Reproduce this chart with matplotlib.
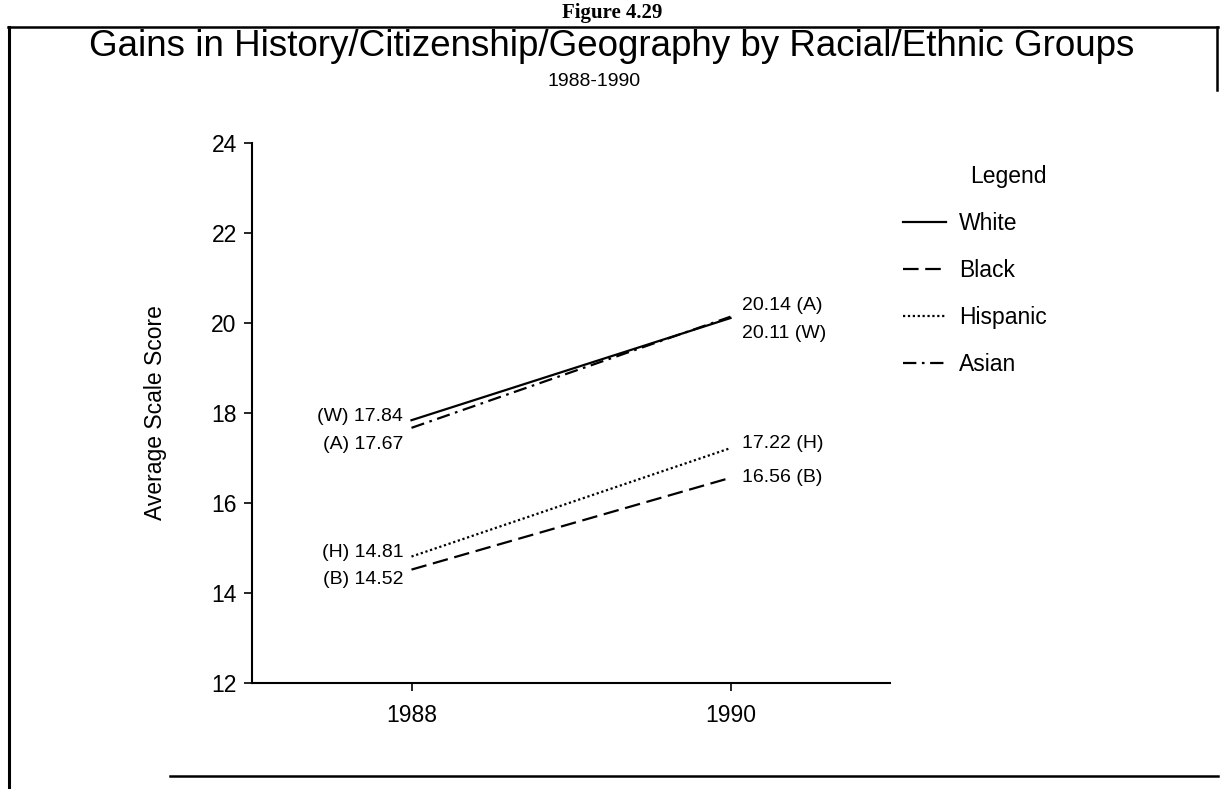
import matplotlib
matplotlib.use("Agg")
import matplotlib.pyplot as plt
from matplotlib.lines import Line2D

plt.rcParams['font.family'] = ['Liberation Sans', 'DejaVu Sans']

# ---- data ----
years = [1988, 1990]
groups = ["White", "Black", "Hispanic", "Asian"]
abbr = ["W", "B", "H", "A"]
scores_1988 = [17.84, 14.52, 14.81, 17.67]
scores_1990 = [20.11, 16.56, 17.22, 20.14]
yticks = [12, 14, 16, 18, 20, 22, 24]
xtick_labels = ["1988", "1990"]

title = "Gains in History/Citizenship/Geography by Racial/Ethnic Groups"
subtitle = "1988-1990"
ylabel = "Average Scale Score"

W, H = 1223, 789
fig = plt.figure(figsize=(W / 100, H / 100), dpi=100)
fig.patch.set_facecolor("white")

def fx(px):
    return px / W

def fy(py):
    return 1 - py / H

ax = fig.add_axes([fx(252), fy(683), fx(890) - fx(252), fy(143) - fy(683)])
ax.set_xlim(1987, 1991)
ax.set_ylim(12, 24)

styles = {
    "White": dict(linestyle="-"),
    "Black": dict(linestyle=(0, (7, 3))),
    "Hispanic": dict(linestyle=(0, (1, 1.2))),
    "Asian": dict(linestyle=(0, (6, 2.5, 1.2, 2.5))),
}

handles = []
for g, a, s0, s1 in zip(groups, abbr, scores_1988, scores_1990):
    ln, = ax.plot(years, [s0, s1], color="black", lw=1.6, label=g, **styles[g])
    handles.append(ln)

# value labels (vertical offsets in points to keep them separated)
left_off = {"W": 3, "B": -7, "H": 3, "A": -12}
right_off = {"W": -11, "B": 0, "H": 3, "A": 8}
for a, s0, s1 in zip(abbr, scores_1988, scores_1990):
    ax.annotate(f"({a}) {s0:.2f}", xy=(years[0], s0), xytext=(-6, left_off[a]),
                textcoords="offset points", ha="right", va="center", fontsize=14)
    ax.annotate(f"{s1:.2f} ({a})", xy=(years[1], s1), xytext=(8, right_off[a]),
                textcoords="offset points", ha="left", va="center", fontsize=14)

ax.spines["top"].set_visible(False)
ax.spines["right"].set_visible(False)
for sp in ("left", "bottom"):
    ax.spines[sp].set_linewidth(1.5)
ax.set_yticks(yticks)
ax.set_yticklabels([str(t) for t in yticks])
ax.set_xticks(years)
ax.set_xticklabels(xtick_labels)
ax.tick_params(axis="both", direction="out", length=6, width=1.2, labelsize=16.5, pad=5)
ax.tick_params(axis="x", pad=9)
ax.set_ylabel(ylabel, fontsize=16.5, labelpad=32)

leg = ax.legend(handles=handles, title="Legend", loc="upper left",
                bbox_to_anchor=(fx(882), fy(144)), bbox_transform=fig.transFigure,
                frameon=False, fontsize=16.5, title_fontsize=16.5,
                handlelength=1.9, handletextpad=0.55, labelspacing=1.05,
                alignment="right")

# titles
fig.text(fx(612), fy(46), title, ha="center", va="center", fontsize=26.5)
fig.text(fx(594), fy(82), subtitle, ha="center", va="center", fontsize=14)
fig.text(fx(612), fy(13), "Figure 4.29", ha="center", va="center", fontsize=15,
         family="Liberation Serif", weight="bold")

# page frame (scanned box)
fig.add_artist(Line2D([fx(8), fx(1218)], [fy(27), fy(27)], color="black", lw=1.8))
fig.add_artist(Line2D([fx(9), fx(9)], [fy(27), fy(789)], color="black", lw=2.2))
fig.add_artist(Line2D([fx(1217), fx(1217)], [fy(27), fy(90)], color="black", lw=1.8))
fig.add_artist(Line2D([fx(170), fx(1218)], [fy(776), fy(776)], color="black", lw=1.8))

fig.savefig("out.png", dpi=100)
